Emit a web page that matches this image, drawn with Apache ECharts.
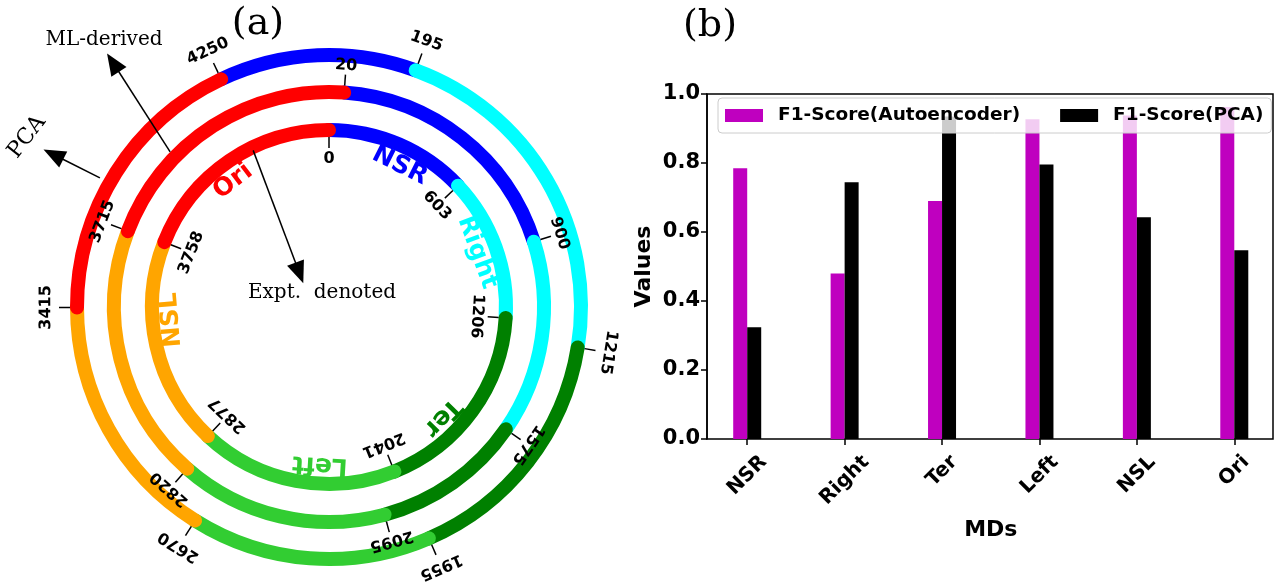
<!DOCTYPE html>
<html><head><meta charset="utf-8">
<script src="https://cdn.jsdelivr.net/npm/echarts@6/dist/echarts.min.js"></script>
<style>html,body{margin:0;padding:0;background:#fff}#c{width:1283px;height:585px}</style>
</head><body><div id="c"></div>
<script>
// ---------- data: panel (a) ----------
const genomeLength = 4641; // kb
const regionNames = ['NSR', 'Right', 'Ter', 'Left', 'NSL', 'Ori'];
const regionColors = ['#0000FF', '#00FFFF', '#008000', '#32CD32', '#FFA500', '#FF0000'];
// start position of each region (NSR, Right, Ter, Left, NSL, Ori) on each ring
const exptBounds = [0, 603, 1206, 2041, 2877, 3758];
const mlBounds = [20, 900, 1575, 2095, 2820, 3715];
const pcaBounds = [4250, 195, 1215, 1955, 2670, 3415];
// position of region name labels (inner ring)
const regionLabelPos = [343, 900, 1730, 2363, 3420, 4159];

// ---------- data: panel (b) ----------
const mdCategories = ['NSR', 'Right', 'Ter', 'Left', 'NSL', 'Ori'];
const f1Autoencoder = [0.785, 0.480, 0.690, 0.927, 0.938, 0.962];
const f1PCA = [0.324, 0.744, 0.935, 0.796, 0.643, 0.547];

// ---------- layout ----------
const ringRadius = [177, 215, 252];
const ringRotationDeg = [0, 2.5, 5];   // each ring is drawn slightly rotated
const ringWidth = 14;
const SANS = '"DejaVu Sans", sans-serif';
const SERIF = '"DejaVu Serif", serif';

const ringBounds = [exptBounds, mlBounds, pcaBounds];
const segData = [];
const tickData = [];
ringBounds.forEach((b, ri) => {
  b.forEach((s, i) => {
    segData.push([ri, s, b[(i + 1) % b.length], i]);
    tickData.push([ri, s]);
  });
});
const nameData = regionLabelPos.map((p, i) => [158, p, i]);
// annotation arrows: [r1, pos1, r2, pos2]
const arrowData = [[174, 4308, 35, 4031], [222, 4052, 337, 4110], [263, 3860, 326, 3853]];

function center(params) { return [params.coordSys.cx, params.coordSys.cy]; }
function compass(p, c) { return Math.atan2(p[0] - c[0], -(p[1] - c[1])); }
function ringPos(ri, v) { return v + ringRotationDeg[ri] * genomeLength / 360; }

function renderSeg(params, api) {
  const ri = api.value(0), s = api.value(1), e = api.value(2), ci = api.value(3);
  const c = center(params);
  const R = ringRadius[ri];
  const p1 = api.coord([R, ringPos(ri, s)]), p2 = api.coord([R, ringPos(ri, e)]);
  let a1 = Math.atan2(p1[1] - c[1], p1[0] - c[0]);
  let a2 = Math.atan2(p2[1] - c[1], p2[0] - c[0]);
  while (a2 <= a1) a2 += 2 * Math.PI;
  return {
    type: 'arc',
    shape: { cx: c[0], cy: c[1], r: Math.hypot(p1[0] - c[0], p1[1] - c[1]), startAngle: a1, endAngle: a2, clockwise: true },
    style: { fill: null, stroke: regionColors[ci], lineWidth: ringWidth, lineCap: 'round' }
  };
}

function renderTick(params, api) {
  const ri = api.value(0), v = api.value(1);
  const c = center(params);
  const R = ringRadius[ri];
  const dir = ri === 0 ? -1 : 1;
  const lab = ri === 0 ? 29 : (ri === 1 ? 27 : 31);
  const pv = ringPos(ri, v);
  const q1 = api.coord([R + dir * 7, pv]);
  const q2 = api.coord([R + dir * 18, pv]);
  const ql = api.coord([R + dir * lab, pv]);
  const th = compass(q1, c);
  return {
    type: 'group',
    children: [
      { type: 'line', shape: { x1: q1[0], y1: q1[1], x2: q2[0], y2: q2[1] }, style: { stroke: '#000', lineWidth: 1.5 } },
      { type: 'text', x: ql[0], y: ql[1], rotation: -th,
        style: { text: String(v), font: 'bold 16px ' + SANS, fill: '#000', align: 'center', verticalAlign: 'middle' } }
    ]
  };
}

function renderName(params, api) {
  const r = api.value(0), v = api.value(1), ci = api.value(2);
  const c = center(params);
  const q = api.coord([r, v]);
  const th = compass(q, c);
  return {
    type: 'text', x: q[0], y: q[1], rotation: -th,
    style: { text: regionNames[ci], font: 'bold 25px ' + SANS, fill: regionColors[ci], align: 'center', verticalAlign: 'middle' }
  };
}

function renderArrow(params, api) {
  const p1 = api.coord([api.value(0), api.value(1)]);
  const p2 = api.coord([api.value(2), api.value(3)]);
  const dx = p2[0] - p1[0], dy = p2[1] - p1[1];
  const L = Math.hypot(dx, dy);
  const ux = dx / L, uy = dy / L;
  const hl = 22, hw = 9;
  const bx = p2[0] - ux * hl, by = p2[1] - uy * hl;
  return {
    type: 'group',
    children: [
      { type: 'line', shape: { x1: p1[0], y1: p1[1], x2: bx + ux * 2, y2: by + uy * 2 }, style: { stroke: '#000', lineWidth: 1.5 } },
      { type: 'polygon', shape: { points: [[p2[0], p2[1]], [bx - uy * hw, by + ux * hw], [bx + uy * hw, by - ux * hw]] }, style: { fill: '#000' } }
    ]
  };
}

// category labels rotated 45deg, centred under the tick (matplotlib style)
const measureCtx = document.createElement('canvas').getContext('2d');
const XLABEL_FONT = 'bold 20px ' + SANS;
function renderXLabel(params, api) {
  const i = api.value(0);
  const p = api.coord([i, 0]);
  const text = mdCategories[i];
  measureCtx.font = XLABEL_FONT;
  const w = measureCtx.measureText(text).width;
  const half = (w + 14) * Math.SQRT1_2 / 2;
  return {
    type: 'text', x: p[0], y: p[1] + 15 + half, rotation: Math.PI / 4,
    style: { text: text, font: XLABEL_FONT, fill: '#000', align: 'center', verticalAlign: 'middle' }
  };
}

const chart = echarts.init(document.getElementById('c'), null, { renderer: 'canvas' });
const boldText = { fontFamily: SANS, fontWeight: 'bold', color: '#000' };

chart.setOption({
  animation: false,
  backgroundColor: '#fff',
  polar: { center: [329, 307], radius: 340 },
  angleAxis: { type: 'value', min: 0, max: genomeLength, startAngle: 90, clockwise: true, show: false },
  radiusAxis: { type: 'value', min: 0, max: 340, show: false },
  grid: [
    { left: 707, top: 94, width: 566, height: 345, show: true, borderColor: '#000', borderWidth: 1.5, backgroundColor: 'transparent' },
    { left: 698.5, top: 94, width: 585, height: 345, show: false }
  ],
  xAxis: [
    { gridIndex: 0, type: 'value', min: 0, max: 1, show: false },
    { gridIndex: 1, type: 'category', data: mdCategories,
      axisLine: { show: false },
      axisTick: { show: true, alignWithLabel: true, length: 6, lineStyle: { color: '#000', width: 1.5 } },
      axisLabel: { show: false },
      name: 'MDs', nameLocation: 'middle', nameGap: 80,
      nameTextStyle: Object.assign({ fontSize: 22 }, boldText) }
  ],
  yAxis: [
    { gridIndex: 0, type: 'value', min: 0, max: 1, interval: 0.2,
      axisLine: { show: true, lineStyle: { color: '#000', width: 1.5 } },
      axisTick: { show: true, length: 6, lineStyle: { color: '#000', width: 1.5 } },
      axisLabel: Object.assign({ fontSize: 21, margin: 7, formatter: v => v.toFixed(1) }, boldText),
      splitLine: { show: false },
      name: 'Values', nameLocation: 'middle', nameGap: 52,
      nameTextStyle: Object.assign({ fontSize: 22 }, boldText) },
    { gridIndex: 1, type: 'value', min: 0, max: 1, show: false }
  ],
  legend: {
    left: 718, top: 98, width: 700, itemWidth: 38, itemHeight: 13, itemGap: 40,
    padding: [8, 8, 8, 7], icon: 'rect',
    backgroundColor: 'rgba(255,255,255,0.8)', borderColor: '#cccccc', borderWidth: 1, borderRadius: 4,
    textStyle: Object.assign({ fontSize: 18.5, padding: [0, 0, 0, 10] }, boldText),
    data: ['F1-Score(Autoencoder)', 'F1-Score(PCA)']
  },
  graphic: [
    { type: 'text', x: 258, y: 24, style: { text: '(a)', font: '38px ' + SERIF, fill: '#000', align: 'center', verticalAlign: 'middle' } },
    { type: 'text', x: 710, y: 26, style: { text: '(b)', font: '38px ' + SERIF, fill: '#000', align: 'center', verticalAlign: 'middle' } },
    { type: 'text', x: 104, y: 40, style: { text: 'ML-derived', font: '20px ' + SERIF, fill: '#000', align: 'center', verticalAlign: 'middle' } },
    { type: 'text', x: 27, y: 137, rotation: 52 * Math.PI / 180, style: { text: 'PCA', font: '22px ' + SERIF, fill: '#000', align: 'center', verticalAlign: 'middle' } },
    { type: 'text', x: 322, y: 293, style: { text: 'Expt.  denoted', font: '20px ' + SERIF, fill: '#000', align: 'center', verticalAlign: 'middle' } }
  ],
  series: [
    { type: 'custom', name: 'rings', coordinateSystem: 'polar', renderItem: renderSeg, data: segData, silent: true, z: 2 },
    { type: 'custom', name: 'ticks', coordinateSystem: 'polar', renderItem: renderTick, data: tickData, silent: true, z: 3 },
    { type: 'custom', name: 'names', coordinateSystem: 'polar', renderItem: renderName, data: nameData, silent: true, z: 3 },
    { type: 'custom', name: 'arrows', coordinateSystem: 'polar', renderItem: renderArrow, data: arrowData, silent: true, z: 4 },
    { type: 'bar', name: 'F1-Score(Autoencoder)', xAxisIndex: 1, yAxisIndex: 1, data: f1Autoencoder, barWidth: 14, barGap: '0%', itemStyle: { color: '#BF00BF' } },
    { type: 'bar', name: 'F1-Score(PCA)', xAxisIndex: 1, yAxisIndex: 1, data: f1PCA, barWidth: 14, barGap: '0%', itemStyle: { color: '#000000' } },
    { type: 'custom', name: 'xlabels', xAxisIndex: 1, yAxisIndex: 1, renderItem: renderXLabel, data: mdCategories.map((c, i) => [i, 0]), silent: true, clip: false }
  ]
});
</script>
</body></html>
